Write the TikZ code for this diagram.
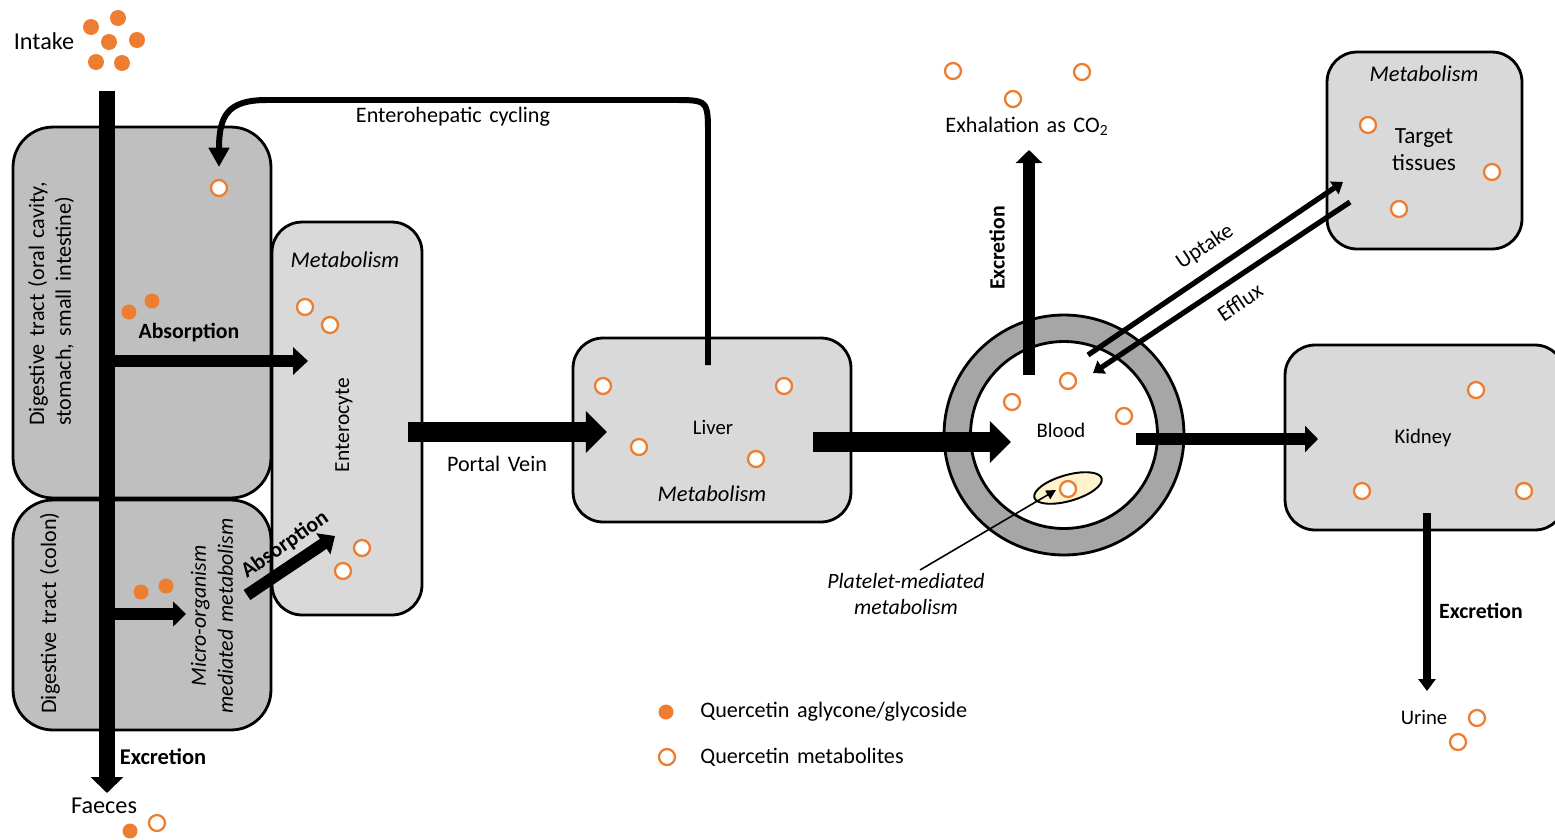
\documentclass[tikz,border=0pt]{standalone}
\usepackage{fontspec}
\setmainfont{Carlito}[WordSpace=1.5]
\usetikzlibrary{arrows.meta,shapes.geometric}

\definecolor{tractgray}{HTML}{BFBFBF}
\definecolor{organgray}{HTML}{D9D9D9}
\definecolor{ringgray}{HTML}{A6A6A6}
\definecolor{querc}{HTML}{ED7D31}
\definecolor{platelet}{HTML}{FFF2CC}

\tikzset{
  txt/.style={font=\fontsize{#1}{15.3}\selectfont, inner sep=0pt}, txt/.default=12.6,
  btxt/.style={inner sep=0pt, font=\fontsize{#1}{15.3}\selectfont\bfseries}, btxt/.default=12.4,
  itxt/.style={inner sep=0pt, font=\fontsize{#1}{15.3}\selectfont\itshape}, itxt/.default=12.8,
  tractbox/.style={draw, line width=1.6pt, fill=tractgray, rounded corners=0.8cm, inner sep=0pt},
  organbox/.style={draw, line width=1.6pt, fill=organgray, rounded corners=0.6cm, inner sep=0pt},
  agly/.style={fill=querc},
  metab/.style={draw=querc, fill=white, line width=1.3pt},
  flow/.style n args={3}{line width=#1, -{Triangle[length=#2, width=#3]}}
}

\begin{document}
\begin{tikzpicture}[x=0.02cm, y=-0.02cm]
  \useasboundingbox (0,0) rectangle (1555,839);

  % compartments
  \node[tractbox, minimum width=5.16cm, minimum height=7.42cm] (upper) at (142,312.5) {};
  \node[tractbox, minimum width=5.16cm, minimum height=4.6cm] (colon) at (142,615) {};
  \node[organbox, minimum width=3cm, minimum height=7.86cm] (entero) at (347,418.5) {};
  \node[organbox, minimum width=5.56cm, minimum height=3.68cm] (liver) at (712,430) {};
  \node[organbox, minimum width=3.9cm, minimum height=3.94cm] (target) at (1424.5,150.5) {};
  \node[organbox, minimum width=5.6cm, minimum height=3.7cm] (kidney) at (1425,437.5) {};

  % blood vessel
  \node[circle, draw, line width=1.6pt, fill=ringgray, minimum size=4.8cm] (ring) at (1064,435) {};
  \node[circle, draw, line width=1.6pt, fill=white, minimum size=3.74cm] (blood) at (1064,435) {};
  \node[ellipse, draw, line width=1.1pt, fill=platelet, minimum width=1.4cm, minimum height=0.52cm, rotate=16] (plate) at (1068,488) {};

  % labels
  \node[txt=13.8] (intake) at (44,41) {Intake};
  \node[txt] (cyclelbl) at (453,117) {Enterohepatic cycling};
  \node[txt, rotate=90, align=left] (uppertxt) at (51,304) {Digestive tract (oral cavity,\\stomach, small intestine)};
  \node[txt, rotate=90] (colontxt) at (50,613) {Digestive tract (colon)};
  \node[itxt=12.4, rotate=90, align=center] (microtxt) at (212,616) {Micro-organism\\mediated metabolism};
  \node[btxt] (abs1) at (189,333) {Absorption};
  \node[btxt, rotate=35] (abs2) at (285,545) {Absorption};
  \node[itxt] (enmet) at (345,260) {Metabolism};
  \node[txt=12.2, rotate=90] (entertxt) at (344,425) {Enterocyte};
  \node[btxt=12.8] (exc1) at (163,757) {Excretion};
  \node[txt=13.8] (faeces) at (104,806) {Faeces};
  \node[txt] (portal) at (497,464) {Portal Vein};
  \node[txt=11.8] (livertxt) at (713,427) {Liver};
  \node[itxt] (livmet) at (712,494) {Metabolism};
  \node[txt=11.8] (bloodtxt) at (1061,430) {Blood};
  \node[itxt=12.4, align=center] (platetxt) at (906,594) {Platelet-mediated\\metabolism};
  \node[txt] (exhale) at (1027,126) {Exhalation as CO\textsubscript{2}};
  \node[btxt, rotate=90] (exc2) at (997,248) {Excretion};
  \node[txt, rotate=34] (uptxt) at (1205,247) {Uptake};
  \node[txt, rotate=34] (efftxt) at (1240,302) {Efflux};
  \node[itxt] (tarmet) at (1424,74) {Metabolism};
  \node[txt=13.2, align=center] (tartxt) at (1424,150) {Target\\tissues};
  \node[txt=11.8] (kidtxt) at (1423,438) {Kidney};
  \node[btxt] (exc3) at (1481,611) {Excretion};
  \node[txt=11.8] (urine) at (1424,717) {Urine};
  \node[txt, anchor=west] (leg1) at (700,712) {Quercetin aglycone/glycoside};
  \node[txt, anchor=west] (leg2) at (700,757) {Quercetin metabolites};

  % arrow ends
  \coordinate (mouth) at (107,91);
  \coordinate (anus) at (107,793);
  \coordinate (abs1from) at (107,361);
  \coordinate (abs1to) at (308,361);
  \coordinate (colfrom) at (107,614);
  \coordinate (colto) at (186,614);
  \coordinate (abs2from) at (247,595);
  \coordinate (abs2to) at (335,536);
  \coordinate (portfrom) at (408,432);
  \coordinate (portto) at (607,432);
  \coordinate (livfrom) at (813,442);
  \coordinate (livto) at (1011,442);
  \coordinate (kidfrom) at (1136,439);
  \coordinate (kidto) at (1318,439);
  \coordinate (co2from) at (1029,375);
  \coordinate (co2to) at (1029,150);
  \coordinate (upfrom) at (1088,355);
  \coordinate (upto) at (1343,182);
  \coordinate (efffrom) at (1350,202);
  \coordinate (effto) at (1093,373);
  \coordinate (urfrom) at (1427,513);
  \coordinate (urto) at (1427,691);
  \coordinate (ehfrom) at (708,365);
  \coordinate (ehto) at (219,167);
  \coordinate (platefrom) at (920,570);
  \coordinate (plateto) at (1056,490);

  % flows
  \draw[flow={9pt}{9pt}{18pt}] (mouth) -- (anus);
  \draw[flow={7.3pt}{8.5pt}{15.3pt}] (abs1from) -- (abs1to);
  \draw[flow={6.8pt}{7.4pt}{14pt}] (colfrom) -- (colto);
  \draw[flow={6.8pt}{8pt}{14pt}] (abs2from) -- (abs2to);
  \draw[flow={11.3pt}{12pt}{23pt}] (portfrom) -- (portto);
  \draw[flow={11.3pt}{12pt}{23pt}] (livfrom) -- (livto);
  \draw[flow={7.3pt}{7.4pt}{14.7pt}] (kidfrom) -- (kidto);
  \draw[flow={6.8pt}{7.4pt}{14.7pt}] (co2from) -- (co2to);
  \draw[flow={3pt}{6pt}{8.5pt}] (upfrom) -- (upto);
  \draw[flow={3pt}{6pt}{8.5pt}] (efffrom) -- (effto);
  \draw[flow={4.5pt}{6.8pt}{9.6pt}] (urfrom) -- (urto);
  \draw[flow={3.4pt}{11pt}{11.3pt}] (ehfrom) -- (708,135) .. controls (708,100) .. (673,100)
    -- (267,100) .. controls (228,100) and (219,115) .. (ehto);
  \draw[flow={0.9pt}{5.5pt}{5.5pt}] (platefrom) -- (plateto);

  % quercetin aglycone/glycoside
  \foreach \x/\y in {91/27, 118/18, 109/42, 137/40, 96/62, 122/63}
    \fill[agly] (\x,\y) circle[radius=0.16cm];
  \foreach \x/\y in {129/312, 152/301, 141/592, 166/586, 130/831, 666/712}
    \fill[agly] (\x,\y) circle[radius=0.15cm];

  % quercetin metabolites
  \foreach \x/\y in {219/188, 305/307, 330/325, 362/548, 343/571, 157/823,
                     603/386, 784/386, 639/447, 756/459,
                     1012/402, 1068/381, 1124/416, 1068/489,
                     953/71, 1082/72, 1013/99,
                     1368/125, 1492/172, 1399/209,
                     1476/390, 1362/491, 1524/491, 1477/718, 1458/742, 667/757}
    \draw[metab] (\x,\y) circle[radius=0.16cm];
\end{tikzpicture}
\end{document}
